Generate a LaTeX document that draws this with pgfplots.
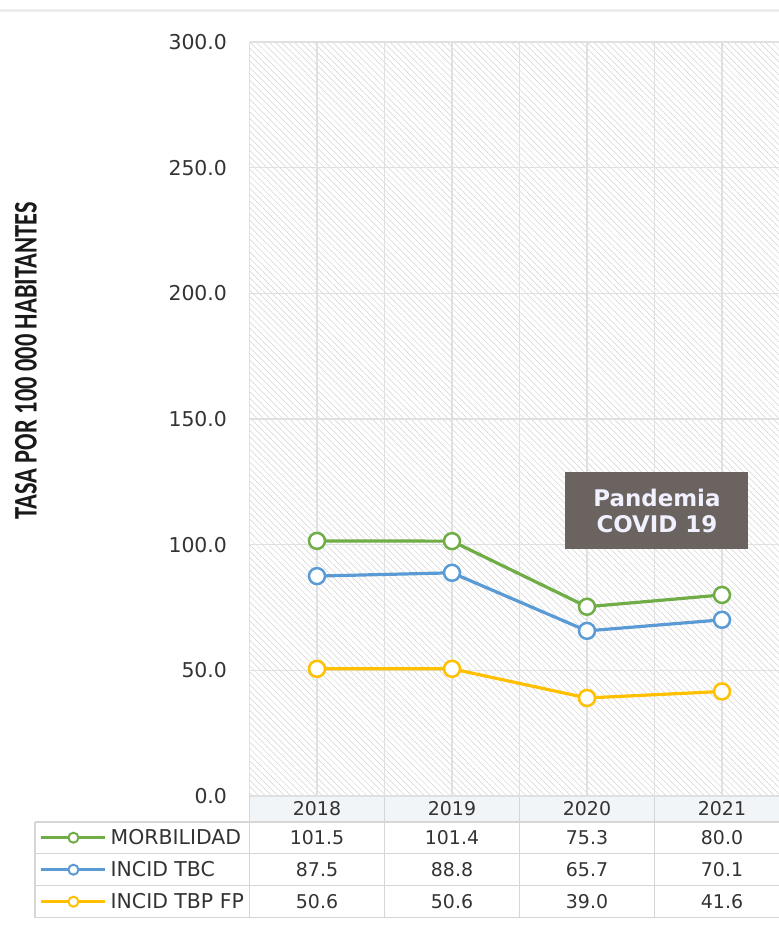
\documentclass[border=0pt]{standalone}
\usepackage{pgfplots}
\pgfplotsset{compat=1.18}
\usepackage{fontspec}
\setmainfont{DejaVu Sans}
\newfontfamily\labelfont{Carlito}
\usetikzlibrary{patterns.meta}

\definecolor{morb}{HTML}{70AD47}
\definecolor{tbc}{HTML}{5B9BD5}
\definecolor{tbp}{HTML}{FFC000}
\definecolor{txt}{HTML}{333333}
\definecolor{gridc}{HTML}{E0E0E0}
\definecolor{boxc}{HTML}{6B6360}
\definecolor{rulec}{HTML}{D6D6D6}
\definecolor{headbg}{HTML}{F2F5F8}

\begin{document}
\begin{tikzpicture}
\path[use as bounding box] (0,0) rectangle (779bp,-925bp);
\draw[gray!15, line width=3bp] (0,-10bp) -- (779bp,-10bp);

% data table below the plot (axis bottom left corner is at 249.5bp,-796bp)
\begin{scope}[shift={(249.5bp,-796bp)}, x=1bp, y=-1bp, font=\fontsize{19}{23}\selectfont, text=txt]
  \fill[headbg] (0,0) rectangle (540,26);
  \begin{scope}[rulec, line width=1.5bp]
    \draw (0,0) -- (540,0);
    \foreach \yy in {26,57.5,89.5,121.5} \draw (-214.5,\yy) -- (540,\yy);
    \draw (-214.5,26) -- (-214.5,121.5);
    \foreach \xx in {0,135,270,405,540} \draw (\xx,0) -- (\xx,121.5);
  \end{scope}
  \node at (67.5,41.5) {101.5};  \node at (202.5,41.5) {101.4};
  \node at (337.5,41.5) {75.3};   \node at (472.5,41.5) {80.0};
  \node at (67.5,73.5) {87.5};    \node at (202.5,73.5) {88.8};
  \node at (337.5,73.5) {65.7};   \node at (472.5,73.5) {70.1};
  \node at (67.5,105.5) {50.6};   \node at (202.5,105.5) {50.6};
  \node at (337.5,105.5) {39.0};  \node at (472.5,105.5) {41.6};
\end{scope}

\begin{axis}[
  name=main,
  at={(249.5bp,-42bp)}, anchor=north west,
  x=135bp, y=2.5133bp,
  xmin=-0.5, xmax=3.5, ymin=0, ymax=300,
  clip=false,
  axis line style={draw=none},
  axis background/.style={pattern={Lines[angle=-45,distance=4.5bp,line width=0.5bp]}, pattern color=gray!35},
  xtick={0,1,2,3}, xticklabels={2018,2019,2020,2021},
  minor xtick={-0.5,0.5,1.5,2.5,3.5},
  ytick={0,50,...,300},
  grid=both,
  major grid style={gridc, line width=1.3bp},
  minor grid style={gridc, line width=1.3bp},
  major tick length=0pt, minor tick length=0pt,
  /pgf/number format/assume math mode=true,
  yticklabel style={/pgf/number format/fixed, /pgf/number format/fixed zerofill,
    /pgf/number format/precision=1, /pgf/number format/1000 sep={},
    font=\fontsize{20.5}{24}\selectfont, text=txt, xshift=-19bp},
  xticklabel style={font=\fontsize{19}{23}\selectfont, text=txt, anchor=center, yshift=-13bp},
  ylabel={\scalebox{1}[1.35]{TASA POR 100 000 HABITANTES}},
  ylabel style={at={(axis description cs:-0.414,0.577)}, anchor=center,
    font=\labelfont\bfseries\fontsize{24.5}{28}\selectfont, text=black!90},
  legend cell align=left,
  legend image code/.code={\draw[#1, line width=2.5bp, mark size=5bp, mark repeat=2, mark phase=2,
    mark options={fill=white, line width=2bp}] plot coordinates {(0bp,0bp) (32bp,0bp) (64bp,0bp)};},
  legend style={at={(axis description cs:0,0)}, anchor=north west,
    xshift=-209.5bp, yshift=-25.5bp, draw=none, fill=none, inner sep=0pt,
    column sep=4bp,
    nodes={inner sep=0pt, minimum height=32bp, font=\fontsize{20.5}{24}\selectfont, text=txt}},
]
\addplot[morb, line width=3.2bp, mark=*, mark size=8bp, mark options={fill=white, line width=2.5bp}]
  coordinates {(0,101.5) (1,101.4) (2,75.3) (3,80.0)};
\addplot[tbc, line width=3.2bp, mark=*, mark size=8bp, mark options={fill=white, line width=2.5bp}]
  coordinates {(0,87.5) (1,88.8) (2,65.7) (3,70.1)};
\addplot[tbp, line width=3.2bp, mark=*, mark size=8bp, mark options={fill=white, line width=2.5bp}]
  coordinates {(0,50.6) (1,50.6) (2,39.0) (3,41.6)};
\legend{MORBILIDAD, INCID TBC, INCID TBP FP}

\node[fill=boxc, text=white!94!blue, font=\bfseries\fontsize{23}{27}\selectfont, align=center,
  minimum width=183bp, minimum height=77bp, inner sep=0pt] at (axis cs:2.518,113.4)
  {Pandemia\\COVID 19};
\end{axis}
\end{tikzpicture}
\end{document}
